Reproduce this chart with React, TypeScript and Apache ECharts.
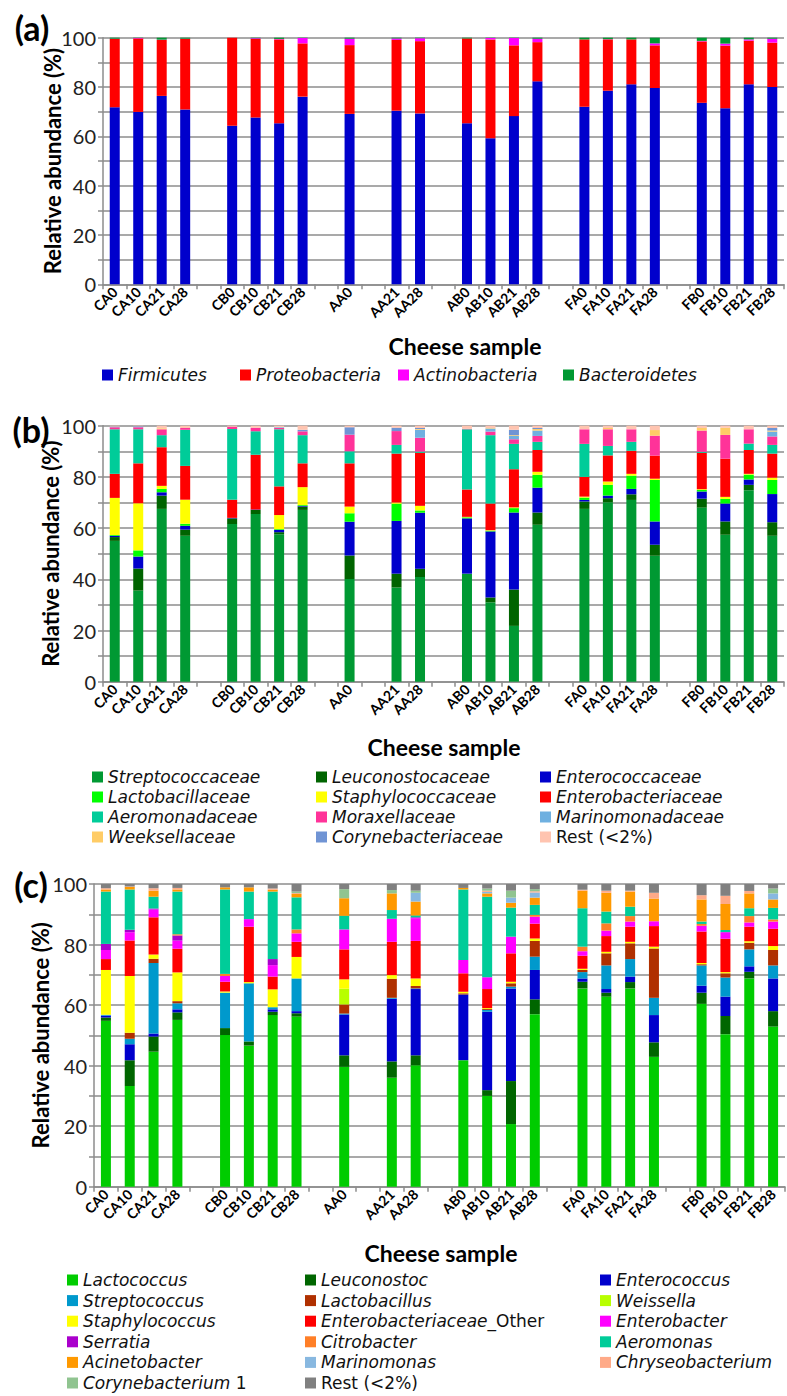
import React, { useEffect, useRef } from "react";
import * as echarts from "echarts";

// ---------- categories ----------
const samples = ["CA0","CA10","CA21","CA28","CB0","CB10","CB21","CB28","AA0","AA21","AA28","AB0","AB10","AB21","AB28","FA0","FA10","FA21","FA28","FB0","FB10","FB21","FB28"];
const axisSlots = ["CA0","CA10","CA21","CA28","","CB0","CB10","CB21","CB28","","AA0","","AA21","AA28","","AB0","AB10","AB21","AB28","","FA0","FA10","FA21","FA28","","FB0","FB10","FB21","FB28"];
const yTicks = [0, 20, 40, 60, 80, 100];

// ---------- panel (a): phyla ----------
const firmicutes = [71.8, 69.9, 76.4, 70.9, 64.3, 67.6, 65.3, 76.1, 69.1, 70.4, 69.3, 65.3, 59.2, 68.2, 82.3, 72.0, 78.5, 81.1, 79.6, 73.6, 71.4, 81.1, 80.0];
const proteobacteria = [27.7, 29.8, 22.7, 28.6, 35.7, 31.9, 34.0, 21.6, 27.9, 28.7, 29.3, 34.4, 40.1, 28.7, 15.9, 27.3, 20.8, 18.2, 17.3, 24.9, 25.4, 17.7, 18.0];
const actinobacteria = [0.1, 0.2, 0.1, 0.1, 0, 0.3, 0.2, 2.2, 2.6, 0.6, 1.2, 0, 0.6, 3.0, 1.4, 0, 0.1, 0, 0.8, 0.2, 0.8, 0.5, 1.6];
const bacteroidetes = [0.4, 0.1, 0.8, 0.4, 0, 0.2, 0.5, 0.1, 0.4, 0.3, 0.2, 0.3, 0.1, 0.1, 0.4, 0.7, 0.6, 0.7, 2.3, 1.3, 2.4, 0.7, 0.4];

// ---------- panel (b): families ----------
const streptococcaceae = [55.0, 35.6, 67.5, 57.0, 61.6, 65.5, 57.6, 67.1, 40.1, 36.8, 40.9, 42.2, 31.0, 21.8, 61.3, 67.5, 70.1, 71.0, 49.2, 68.0, 57.4, 74.8, 57.0];
const leuconostocaceae = [1.5, 8.6, 5.2, 2.4, 2.2, 1.6, 0.8, 1.3, 9.2, 5.4, 3.2, 0, 1.9, 14.2, 4.8, 2.9, 1.6, 2.2, 4.3, 3.5, 5.2, 2.1, 5.3];
const enterococcaceae = [0.5, 4.7, 1.3, 1.5, 0.2, 0.2, 0.9, 0.3, 13.2, 20.6, 21.9, 21.6, 25.8, 30.1, 9.7, 0.6, 1.0, 2.1, 9.1, 2.8, 7.0, 2.1, 11.0];
const lactobacillaceae = [0.3, 2.4, 1.3, 0.8, 0, 0, 0.3, 0.3, 3.3, 6.7, 0.9, 0.4, 0.3, 1.7, 5.0, 0.9, 4.2, 5.2, 16.2, 0.6, 1.8, 1.9, 5.5];
const staphylococcaceae = [14.5, 18.4, 1.2, 9.4, 0, 0, 5.5, 7.0, 2.6, 0.5, 1.8, 0.2, 0.2, 0.3, 1.2, 0.4, 1.3, 0.7, 0.5, 0.3, 0.8, 0.3, 0.9];
const enterobacteriaceae = [9.4, 15.6, 15.1, 13.2, 7.1, 21.4, 11.2, 9.3, 16.9, 19.1, 20.7, 10.7, 10.4, 14.9, 8.5, 7.7, 10.2, 9.0, 9.0, 14.2, 14.9, 9.3, 9.4];
const aeromonadaceae = [17.4, 13.3, 4.7, 14.1, 27.6, 9.1, 22.3, 11.0, 4.7, 3.4, 0.5, 23.5, 26.7, 9.9, 3.2, 12.9, 3.7, 3.5, 0, 0.4, 0, 2.5, 3.4];
const moraxellaceae = [0.8, 0.8, 2.3, 0.7, 0.9, 1.4, 0.5, 1.5, 6.5, 5.4, 5.4, 0.2, 1.4, 1.8, 2.3, 5.7, 6.5, 4.9, 7.8, 8.3, 9.3, 5.6, 3.3];
const marinomonadaceae = [0.2, 0.2, 0, 0, 0, 0, 0.3, 0, 0, 0, 3.1, 0, 1.2, 1.3, 2.1, 0, 0, 0, 0, 0, 0, 0, 1.9];
const weeksellaceae = [0, 0, 0.4, 0, 0, 0, 0, 0, 0, 0, 0.3, 0, 0.2, 0.3, 0.6, 0, 0.5, 0, 2.2, 1.0, 2.8, 0, 0.4];
const corynebacteriaceae = [0.1, 0.2, 0, 0, 0, 0, 0, 0.6, 2.9, 1.3, 0.4, 0, 0, 2.1, 0.4, 0, 0, 0, 0, 0, 0, 0, 1.0];
const restFamilies = [0.3, 0.2, 1.0, 0.9, 0.4, 0.8, 0.6, 1.6, 0.6, 0.8, 0.9, 1.2, 0.9, 1.6, 0.9, 1.4, 0.9, 1.4, 1.7, 0.9, 0.8, 1.4, 0.9];

// ---------- panel (c): genera ----------
const lactococcus = [54.8, 33.3, 44.6, 55.1, 50.1, 46.6, 56.7, 56.2, 39.6, 36.0, 40.1, 41.8, 30.0, 20.7, 57.0, 65.5, 62.8, 65.5, 42.9, 60.4, 50.4, 68.8, 52.9];
const leuconostoc = [1.1, 8.5, 5.0, 2.5, 2.3, 1.4, 1.1, 1.1, 3.8, 5.4, 3.3, 0, 1.9, 14.2, 4.9, 2.2, 1.3, 2.1, 4.8, 3.7, 6.0, 2.2, 5.1];
const enterococcus = [0.6, 5.3, 1.0, 1.0, 0, 0, 0.8, 0.7, 13.5, 20.7, 21.9, 21.7, 25.9, 30.6, 9.7, 1.1, 1.2, 1.8, 9.0, 2.3, 6.4, 1.8, 10.8];
const streptococcus = [0.3, 1.8, 23.3, 2.0, 11.7, 19.2, 0.7, 10.8, 0.3, 0.3, 0.2, 0, 0.6, 0.6, 4.4, 2.1, 7.8, 5.8, 5.7, 6.7, 6.3, 5.6, 4.3];
const lactobacillus = [0, 2.0, 1.4, 0.7, 0, 0, 0, 0, 3.0, 6.3, 0.8, 0.4, 0.3, 1.1, 5.2, 0.7, 4.0, 5.2, 16.3, 0.4, 1.4, 2.2, 5.1];
const weissella = [0, 0, 0, 0, 0, 0, 0, 0, 5.2, 0, 0, 0, 0, 0, 0, 0, 0, 0, 0, 0, 0, 0, 0];
const staphylococcus = [14.8, 18.7, 1.4, 9.5, 0.4, 0.4, 5.9, 7.1, 3.1, 1.2, 2.5, 0.5, 0.3, 0.5, 0.8, 0.4, 0.5, 0.5, 0.6, 0.4, 0.4, 0.5, 1.3];
const enterobacteriaceaeOther = [3.6, 11.7, 12.3, 7.8, 3.2, 18.3, 4.2, 5.0, 9.9, 11.0, 12.4, 6.1, 6.3, 9.4, 4.9, 4.3, 5.2, 5.0, 6.8, 10.4, 11.0, 4.8, 5.7];
const enterobacter = [3.0, 2.8, 2.6, 2.7, 1.9, 2.5, 3.8, 2.8, 6.6, 7.6, 7.5, 4.4, 3.9, 5.5, 2.3, 1.5, 1.8, 1.7, 1.6, 1.9, 2.2, 1.4, 2.4];
const serratia = [2.0, 0.8, 0.3, 1.7, 0, 0, 2.0, 0, 0, 0, 0.3, 0, 0, 0, 0, 0, 0, 0, 0, 0, 0, 0, 0];
const citrobacter = [0, 0, 0, 0.4, 0.7, 0, 0, 1.3, 0, 0, 0, 0, 0, 0, 0.6, 1.5, 2.4, 1.8, 0, 0.6, 0, 2.1, 0.7];
const aeromonas = [17.3, 13.3, 3.9, 14.1, 27.9, 9.1, 22.3, 10.6, 4.5, 2.9, 0.6, 23.3, 26.6, 9.6, 3.3, 12.7, 3.9, 3.1, 0, 0.8, 0.7, 2.6, 3.8];
const acinetobacter = [0.7, 0.8, 2.0, 0.7, 0.7, 1.4, 0.6, 1.1, 5.8, 5.5, 4.6, 0.5, 1.1, 1.6, 2.4, 5.8, 6.2, 5.0, 7.5, 7.3, 8.6, 4.9, 2.8];
const marinomonas = [0, 0, 0, 0, 0, 0, 0, 0, 0, 0, 2.9, 0, 0.5, 1.7, 1.7, 0, 0, 0, 0, 0, 0, 0, 2.0];
const chryseobacterium = [0.4, 0.2, 0.8, 0.5, 0, 0, 0.4, 0.3, 0, 0, 0, 0, 0.4, 0, 0.4, 0.3, 0.7, 0.3, 1.9, 1.4, 2.7, 0.8, 0];
const corynebacterium1 = [0, 0, 0, 0, 0, 0, 0, 0.5, 3.0, 1.1, 0.7, 0, 0.7, 2.3, 0.7, 0, 0, 0, 0, 0, 0, 0, 1.6];
const restGenera = [1.4, 0.8, 1.4, 1.3, 1.1, 1.1, 1.5, 2.5, 1.7, 2.0, 2.2, 1.3, 1.5, 2.2, 1.7, 1.9, 2.2, 2.2, 2.9, 3.7, 3.9, 2.3, 1.5];

// ---------- series definitions (bottom to top) ----------
const seriesA = [
  { name: "Firmicutes", color: "#0000cc", values: firmicutes },
  { name: "Proteobacteria", color: "#ff0000", values: proteobacteria },
  { name: "Actinobacteria", color: "#ff00ff", values: actinobacteria },
  { name: "Bacteroidetes", color: "#009933", values: bacteroidetes },
];
const seriesB = [
  { name: "Streptococcaceae", color: "#009933", values: streptococcaceae },
  { name: "Leuconostocaceae", color: "#006400", values: leuconostocaceae },
  { name: "Enterococcaceae", color: "#0000cc", values: enterococcaceae },
  { name: "Lactobacillaceae", color: "#00ff00", values: lactobacillaceae },
  { name: "Staphylococcaceae", color: "#ffff00", values: staphylococcaceae },
  { name: "Enterobacteriaceae", color: "#ff0000", values: enterobacteriaceae },
  { name: "Aeromonadaceae", color: "#00cc99", values: aeromonadaceae },
  { name: "Moraxellaceae", color: "#ff3399", values: moraxellaceae },
  { name: "Marinomonadaceae", color: "#6fb0e0", values: marinomonadaceae },
  { name: "Weeksellaceae", color: "#ffcc66", values: weeksellaceae },
  { name: "Corynebacteriaceae", color: "#7094d4", values: corynebacteriaceae },
  { name: "Rest (<2%)", color: "#ffc4b0", values: restFamilies },
];
const seriesC = [
  { name: "Lactococcus", color: "#00cc00", values: lactococcus },
  { name: "Leuconostoc", color: "#006600", values: leuconostoc },
  { name: "Enterococcus", color: "#0000cc", values: enterococcus },
  { name: "Streptococcus", color: "#0099cc", values: streptococcus },
  { name: "Lactobacillus", color: "#b03000", values: lactobacillus },
  { name: "Weissella", color: "#b8ff00", values: weissella },
  { name: "Staphylococcus", color: "#ffff00", values: staphylococcus },
  { name: "Enterobacteriaceae_Other", color: "#ff0000", values: enterobacteriaceaeOther },
  { name: "Enterobacter", color: "#ff00ff", values: enterobacter },
  { name: "Serratia", color: "#aa00cc", values: serratia },
  { name: "Citrobacter", color: "#ff7f27", values: citrobacter },
  { name: "Aeromonas", color: "#00cc99", values: aeromonas },
  { name: "Acinetobacter", color: "#ff9900", values: acinetobacter },
  { name: "Marinomonas", color: "#88b8e0", values: marinomonas },
  { name: "Chryseobacterium", color: "#ffaa88", values: chryseobacterium },
  { name: "Corynebacterium 1", color: "#90c490", values: corynebacterium1 },
  { name: "Rest (<2%)", color: "#808080", values: restGenera },
];

const legendColsA = [["Firmicutes"], ["Proteobacteria"], ["Actinobacteria"], ["Bacteroidetes"]];
const legendColsB = [
  ["Streptococcaceae", "Lactobacillaceae", "Aeromonadaceae", "Weeksellaceae"],
  ["Leuconostocaceae", "Staphylococcaceae", "Moraxellaceae", "Corynebacteriaceae"],
  ["Enterococcaceae", "Enterobacteriaceae", "Marinomonadaceae", "Rest (<2%)"],
];
const legendColsC = [
  ["Lactococcus", "Streptococcus", "Staphylococcus", "Serratia", "Acinetobacter", "Corynebacterium 1"],
  ["Leuconostoc", "Lactobacillus", "Enterobacteriaceae_Other", "Citrobacter", "Marinomonas", "Rest (<2%)"],
  ["Enterococcus", "Weissella", "Enterobacter", "Aeromonas", "Chryseobacterium"],
];

const FONT = "Lato, 'Open Sans', sans-serif";
const LEGEND_FONT = "'DejaVu Sans', Lato, sans-serif";
const GRID_GRAY = "#8c8c8c";
const LEGEND_FS = 17;

function legendName(name: string) {
  if (name.startsWith("Rest")) return `{n|${name}}`;
  if (name === "Enterobacteriaceae_Other") return "{i|Enterobacteriaceae}{n|_Other}";
  if (name === "Corynebacterium 1") return "{i|Corynebacterium}{n| 1}";
  return `{i|${name}}`;
}

type Layout = {
  label: string; labelX: number; labelY: number;
  gridLeft: number; gridTop: number; gridWidth: number; gridHeight: number;
  yNameGap: number; titleX: number; titleY: number;
  legendLefts: number[]; legendTop: number; legendGap: number;
};

function buildOption(series: any[], cols: string[][], L: Layout) {
  const legends = cols.map((col, i) => ({
    orient: "vertical",
    left: L.legendLefts[i],
    top: L.legendTop,
    data: col,
    icon: "rect",
    itemWidth: 11,
    itemHeight: 11,
    itemGap: L.legendGap,
    padding: 0,
    selectedMode: false,
    formatter: legendName,
    textStyle: {
      color: "#111",
      fontFamily: LEGEND_FONT,
      fontSize: LEGEND_FS,
      lineHeight: 20,
      rich: {
        i: { fontStyle: "italic", fontSize: LEGEND_FS, fontFamily: LEGEND_FONT, color: "#111", lineHeight: 20 },
        n: { fontStyle: "normal", fontSize: LEGEND_FS, fontFamily: LEGEND_FONT, color: "#111", lineHeight: 20 },
      },
    },
  }));
  return {
    animation: false,
    backgroundColor: "#ffffff",
    grid: { left: L.gridLeft, top: L.gridTop, width: L.gridWidth, height: L.gridHeight, containLabel: false },
    legend: legends,
    graphic: [
      { type: "text", x: L.labelX, y: L.labelY, style: { text: L.label, fontSize: 34, fontWeight: "bold", fontFamily: FONT, fill: "#000", align: "center", verticalAlign: "middle" } },
      { type: "text", x: L.titleX, y: L.titleY, style: { text: "Cheese sample", fontSize: 23, fontWeight: "bold", fontFamily: FONT, fill: "#000", align: "center", verticalAlign: "middle" } },
    ],
    xAxis: {
      type: "category",
      data: axisSlots,
      boundaryGap: true,
      axisLine: { lineStyle: { color: GRID_GRAY, width: 1.5 } },
      axisTick: { show: true, interval: 0, length: 5, lineStyle: { color: GRID_GRAY, width: 1.5 } },
      axisLabel: { interval: 0, rotate: 45, fontSize: 14, fontWeight: "bold", fontFamily: FONT, color: "#000", margin: 5 },
      splitLine: { show: false },
    },
    yAxis: {
      type: "value",
      min: 0,
      max: 100,
      interval: 10,
      name: "Relative abundance (%)",
      nameLocation: "middle",
      nameGap: L.yNameGap,
      nameMoveOverlap: false,
      nameTextStyle: { fontSize: 22, fontWeight: "bold", fontFamily: FONT, color: "#000" },
      axisLine: { show: true, lineStyle: { color: GRID_GRAY, width: 1.5 } },
      axisTick: { show: true, length: 5, lineStyle: { color: GRID_GRAY, width: 1.5 } },
      axisLabel: {
        fontSize: 20, fontFamily: FONT, color: "#222", margin: 7,
        formatter: (v: number) => (yTicks.includes(v) ? String(v) : ""),
      },
      splitLine: { show: true, lineStyle: { color: GRID_GRAY, width: 1.5 } },
    },
    series: series.map((s) => ({
      type: "bar",
      name: s.name,
      stack: "total",
      barWidth: 10,
      itemStyle: { color: s.color },
      data: axisSlots.map((slot) => {
        const idx = samples.indexOf(slot);
        return idx >= 0 ? s.values[idx] : "-";
      }),
    })),
  };
}

function Chart({ option, top, height }: { option: any; top: number; height: number }) {
  const ref = useRef<HTMLDivElement>(null);
  useEffect(() => {
    const chart = echarts.init(ref.current as HTMLDivElement, null, { renderer: "svg" });
    chart.setOption(option);
    return () => chart.dispose();
  }, []);
  return <div ref={ref} style={{ position: "absolute", left: 0, top, width: 787, height }} />;
}

const optA = buildOption(seriesA, legendColsA, {
  label: "(a)", labelX: 32, labelY: 27,
  gridLeft: 103, gridTop: 37.7, gridWidth: 681, gridHeight: 246.6,
  yNameGap: 40, titleX: 465, titleY: 346,
  legendLefts: [102, 240, 398, 563], legendTop: 365, legendGap: 0,
});
const optB = buildOption(seriesB, legendColsB, {
  label: "(b)", labelX: 31, labelY: 29,
  gridLeft: 103, gridTop: 25.7, gridWidth: 681, gridHeight: 256,
  yNameGap: 42, titleX: 444, titleY: 346.7,
  legendLefts: [92, 316, 540], legendTop: 367, legendGap: 0,
});
const optC = buildOption(seriesC, legendColsC, {
  label: "(c)", labelX: 31, labelY: 24,
  gridLeft: 94, gridTop: 24, gridWidth: 691, gridHeight: 302.7,
  yNameGap: 43, titleX: 441, titleY: 393,
  legendLefts: [67, 305, 600], legendTop: 410, legendGap: 0.6,
});

export default function App() {
  return (
    <div style={{ position: "absolute", left: 0, top: 0, width: 787, height: 1396, background: "#fff", overflow: "hidden" }}>
      <Chart option={optA} top={0} height={400} />
      <Chart option={optB} top={400} height={460} />
      <Chart option={optC} top={860} height={536} />
    </div>
  );
}
